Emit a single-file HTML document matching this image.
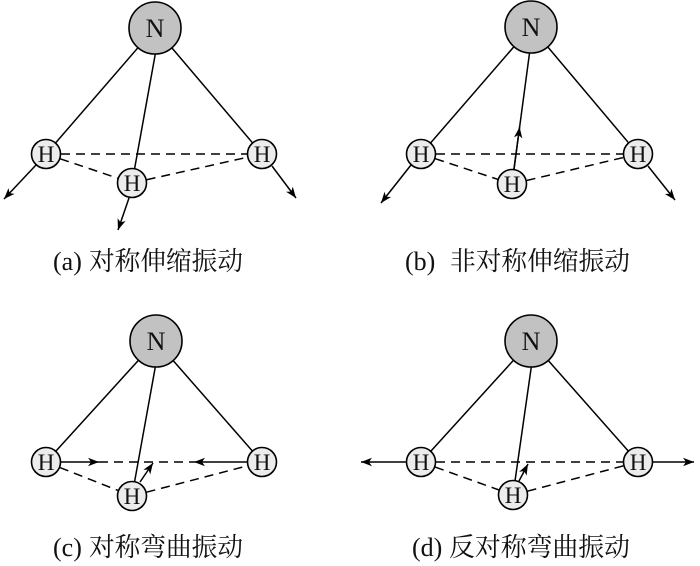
<!DOCTYPE html>
<html><head><meta charset="utf-8">
<style>
html,body{margin:0;padding:0;background:#fff;}
svg{display:block;}
</style></head>
<body>
<svg width="700" height="566" viewBox="0 0 700 566" xmlns="http://www.w3.org/2000/svg">
<defs>
<marker id="ah" markerUnits="userSpaceOnUse" markerWidth="14" markerHeight="10" refX="12" refY="5" orient="auto">
<path d="M12,5 L1,0.8 L4,5 L1,9.2 Z" fill="#000"/>
</marker>
</defs>
<g stroke="#000" stroke-width="1.5" fill="none">
<!-- (a) -->
<line x1="155" y1="28" x2="46" y2="154"/>
<line x1="160" y1="28" x2="132" y2="183"/>
<line x1="155" y1="28" x2="262" y2="154"/>
<g stroke-dasharray="9 6">
<line x1="46" y1="154" x2="262" y2="154"/>
<line x1="46" y1="154" x2="132" y2="183"/>
<line x1="132" y1="183" x2="262" y2="154"/>
</g>
<line x1="36" y1="165" x2="4" y2="199" marker-end="url(#ah)"/>
<line x1="272" y1="166" x2="296" y2="198" marker-end="url(#ah)"/>
<line x1="129" y1="198" x2="118" y2="230" marker-end="url(#ah)"/>

<!-- (b) -->
<line x1="531" y1="27" x2="421" y2="154"/>
<line x1="533" y1="27" x2="512" y2="184"/>
<line x1="531" y1="27" x2="638" y2="154"/>
<g stroke-dasharray="9 6">
<line x1="421" y1="154" x2="638" y2="154"/>
<line x1="421" y1="154" x2="512" y2="184"/>
<line x1="512" y1="184" x2="638" y2="154"/>
</g>
<line x1="411" y1="165" x2="381" y2="203" marker-end="url(#ah)"/>
<line x1="648" y1="166" x2="675" y2="200" marker-end="url(#ah)"/>
<line x1="512" y1="184" x2="519.6" y2="127" marker-end="url(#ah)"/>

<!-- (c) -->
<line x1="156" y1="341" x2="46" y2="462"/>
<line x1="160" y1="341" x2="132" y2="496"/>
<line x1="156" y1="341" x2="262" y2="462"/>
<g stroke-dasharray="9 6">
<line x1="99" y1="462" x2="194" y2="462"/>
<line x1="46" y1="462" x2="132" y2="496"/>
<line x1="132" y1="496" x2="262" y2="462"/>
</g>
<line x1="60" y1="462" x2="99" y2="462" marker-end="url(#ah)"/>
<line x1="248" y1="462" x2="194" y2="462" marker-end="url(#ah)"/>
<line x1="140" y1="482" x2="153" y2="463" marker-end="url(#ah)"/>

<!-- (d) -->
<line x1="531" y1="341" x2="421" y2="462"/>
<line x1="535" y1="341" x2="513" y2="495"/>
<line x1="531" y1="341" x2="638" y2="462"/>
<g stroke-dasharray="9 6">
<line x1="421" y1="462" x2="638" y2="462"/>
<line x1="421" y1="462" x2="513" y2="495"/>
<line x1="513" y1="495" x2="638" y2="462"/>
</g>
<line x1="407" y1="462" x2="361" y2="462" marker-end="url(#ah)"/>
<line x1="652" y1="462" x2="694" y2="462" marker-end="url(#ah)"/>
<line x1="519" y1="481" x2="528" y2="464" marker-end="url(#ah)"/>
</g>

<!-- atoms -->
<g stroke="#000" stroke-width="1.6">
<circle cx="155" cy="28" r="26" fill="#c2c2c2"/>
<circle cx="531" cy="27" r="26" fill="#c2c2c2"/>
<circle cx="156" cy="341" r="26" fill="#c2c2c2"/>
<circle cx="531" cy="341" r="26" fill="#c2c2c2"/>
<g fill="#ececec">
<circle cx="46" cy="154" r="14.5"/>
<circle cx="262" cy="154" r="14.5"/>
<circle cx="132" cy="183" r="14.5"/>
<circle cx="421" cy="154" r="14.5"/>
<circle cx="638" cy="154" r="14.5"/>
<circle cx="512" cy="184" r="14.5"/>
<circle cx="46" cy="462" r="14.5"/>
<circle cx="262" cy="462" r="14.5"/>
<circle cx="132" cy="496" r="14.5"/>
<circle cx="421" cy="462" r="14.5"/>
<circle cx="638" cy="462" r="14.5"/>
<circle cx="513" cy="495" r="14.5"/>
</g>
</g>
<g font-family="'Liberation Serif', serif" fill="#111" text-anchor="middle">
<g font-size="26">
<text x="155" y="37">N</text>
<text x="531" y="36">N</text>
<text x="156" y="350">N</text>
<text x="531" y="350">N</text>
</g>
<g font-size="23">
<text x="46" y="162">H</text>
<text x="262" y="162">H</text>
<text x="132" y="191">H</text>
<text x="421" y="162">H</text>
<text x="638" y="162">H</text>
<text x="512" y="192">H</text>
<text x="46" y="470">H</text>
<text x="262" y="470">H</text>
<text x="132" y="504">H</text>
<text x="421" y="470">H</text>
<text x="638" y="470">H</text>
<text x="513" y="503">H</text>
</g>
</g>
<!-- labels -->
<g font-size="26" fill="#111">
<text x="53" y="270" font-family="'Liberation Serif', serif">(a)</text>
<text x="89" y="270" font-family="'Liberation Serif','Noto Serif CJK SC','Noto Sans CJK SC',serif" textLength="154" lengthAdjust="spacingAndGlyphs">对称伸缩振动</text>
<text x="405" y="270" font-family="'Liberation Serif', serif">(b)</text>
<text x="450" y="270" font-family="'Liberation Serif','Noto Serif CJK SC','Noto Sans CJK SC',serif" textLength="180" lengthAdjust="spacingAndGlyphs">非对称伸缩振动</text>
<text x="53" y="556" font-family="'Liberation Serif', serif">(c)</text>
<text x="89" y="556" font-family="'Liberation Serif','Noto Serif CJK SC','Noto Sans CJK SC',serif" textLength="154" lengthAdjust="spacingAndGlyphs">对称弯曲振动</text>
<text x="412" y="556" font-family="'Liberation Serif', serif">(d)</text>
<text x="449" y="556" font-family="'Liberation Serif','Noto Serif CJK SC','Noto Sans CJK SC',serif" textLength="181" lengthAdjust="spacingAndGlyphs">反对称弯曲振动</text>
</g>
</svg>
</body></html>
